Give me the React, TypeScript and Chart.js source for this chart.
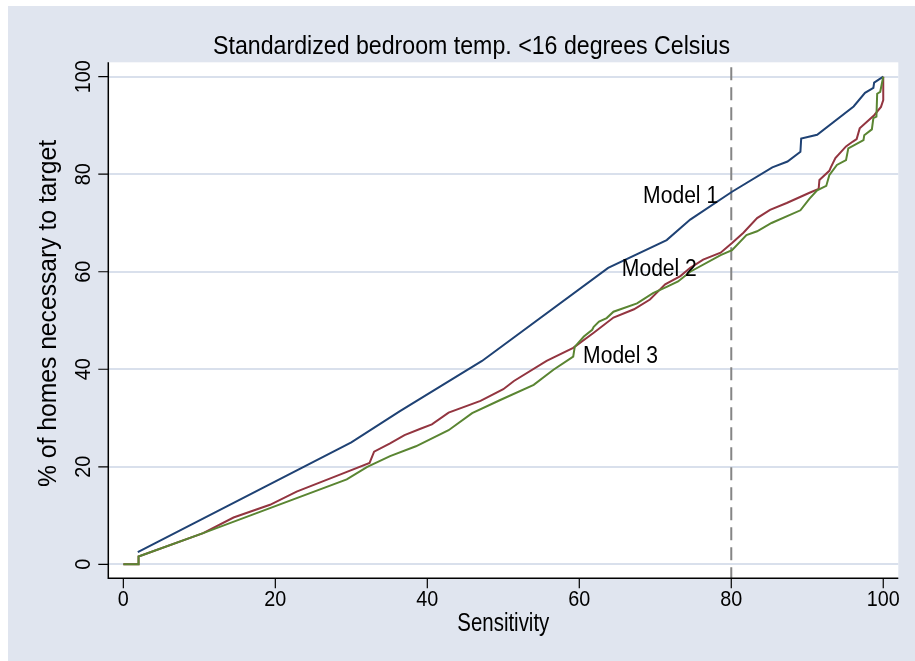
import React, { useEffect, useRef } from "react";
import { Chart, registerables } from "chart.js";

Chart.register(...registerables);

const TITLE = "Standardized bedroom temp. <16 degrees Celsius";
const X_TITLE = "Sensitivity";
const Y_TITLE = "% of homes necessary to target";
const X_TICKS = [0, 20, 40, 60, 80, 100];
const Y_TICKS = [0, 20, 40, 60, 80, 100];
const CUTOFF = 80;

const MODEL1_X = [1.9, 30.0, 36.4, 47.2, 63.8, 71.5, 74.6, 80.1, 85.4, 87.4, 89.1, 89.2, 91.3, 96.1, 97.6, 98.7, 98.8, 100];
const MODEL1_Y = [2.5, 25.0, 31.4, 41.7, 60.8, 66.5, 70.7, 76.4, 81.4, 82.6, 84.6, 87.3, 88.1, 93.9, 96.7, 97.7, 98.8, 100];

const MODEL2_X = [0, 2, 2, 10.5, 14.5, 19.3, 22.8, 29.0, 32.4, 33.0, 35.1, 37.0, 39.1, 40.6, 42.8, 47.0, 50.0, 51.4, 55.7, 59.2, 61.9, 64.5, 67.2, 69.3, 71.3, 73.3, 74.6, 76.3, 78.6, 80.1, 81.6, 83.4, 85.1, 87.3, 90.3, 91.5, 91.6, 92.9, 93.1, 93.7, 95.1, 96.0, 96.5, 96.9, 98.8, 99.7, 100, 100];
const MODEL2_Y = [0, 0, 1.6, 6.4, 9.6, 12.2, 14.9, 18.7, 20.8, 23.1, 24.8, 26.5, 27.8, 28.7, 31.1, 33.5, 35.9, 37.6, 41.7, 44.4, 47.5, 50.6, 52.3, 54.3, 57.4, 59.1, 60.8, 62.5, 63.9, 65.9, 68.0, 71.0, 72.7, 74.1, 76.2, 77.0, 78.8, 80.7, 81.4, 83.3, 85.7, 86.7, 87.2, 89.4, 92.1, 93.8, 95.2, 100];

const MODEL3_X = [0, 2, 2, 10.5, 29.4, 32.1, 35.1, 38.5, 42.8, 45.9, 49.6, 54.0, 56.6, 59.2, 59.4, 60.6, 61.7, 61.9, 62.6, 63.6, 64.5, 67.6, 69.7, 71.5, 73.0, 74.6, 78.6, 80.1, 82.0, 83.4, 85.3, 89.1, 90.3, 91.3, 92.5, 92.9, 93.9, 95.1, 95.4, 97.4, 97.5, 98.5, 98.7, 99.1, 99.2, 99.6, 100];
const MODEL3_Y = [0, 0, 1.6, 6.4, 17.4, 20.0, 22.2, 24.2, 27.5, 31.0, 33.7, 36.8, 39.9, 42.6, 44.6, 46.7, 48.1, 48.7, 49.8, 50.5, 51.8, 53.5, 55.6, 56.9, 58.0, 60.0, 63.4, 64.4, 67.5, 68.3, 70.0, 72.6, 75.0, 76.7, 77.6, 79.8, 81.9, 82.9, 85.3, 87.0, 88.0, 89.2, 91.5, 91.8, 96.5, 96.9, 100];

const LABELS = ["Model 1", "Model 2", "Model 3"];
const LABEL_X = [68.4, 65.6, 60.5];
const LABEL_Y = [75.8, 60.8, 43.0];

const BG = "#e0e5ef";
const GRID = "#d9e0ec";
const COLORS = ["#1f4274", "#933540", "#5a8532"];
const FONT = '"Liberation Sans", Arial, sans-serif';

function drawText(
  ctx: CanvasRenderingContext2D,
  text: string,
  x: number,
  cy: number,
  size: number,
  opts: { rot?: number; width?: number; align?: CanvasTextAlign } = {}
) {
  ctx.save();
  ctx.translate(x, cy);
  if (opts.rot) ctx.rotate(opts.rot);
  ctx.font = `${size}px ${FONT}`;
  const w = ctx.measureText(text).width;
  const sx = opts.width ? opts.width / w : 1;
  ctx.scale(sx, 1);
  ctx.textAlign = opts.align || "center";
  ctx.textBaseline = "alphabetic";
  ctx.fillStyle = "#000";
  ctx.fillText(text, 0, 0.358 * size);
  ctx.restore();
}

const stataPlugin = {
  id: "stata",
  beforeDraw(chart: any) {
    const { ctx, chartArea: a, width, height } = chart;
    ctx.save();
    ctx.fillStyle = BG;
    ctx.fillRect(0, 0, width, height);
    ctx.fillStyle = "#ffffff";
    ctx.fillRect(a.left, a.top, a.right - a.left, a.bottom - a.top);
    ctx.restore();
  },
  beforeDatasetsDraw(chart: any) {
    const { ctx, chartArea: a, scales } = chart;
    const x = scales.x.getPixelForValue(CUTOFF);
    ctx.save();
    ctx.strokeStyle = "#858585";
    ctx.lineWidth = 2;
    ctx.setLineDash([13, 7]);
    ctx.lineDashOffset = 0;
    ctx.beginPath();
    ctx.moveTo(x, a.top + 5);
    ctx.lineTo(x, a.bottom);
    ctx.stroke();
    ctx.restore();
  },
  afterDraw(chart: any) {
    const { ctx, chartArea: a, scales } = chart;
    const xs = scales.x;
    const ys = scales.y;
    ctx.save();
    ctx.strokeStyle = "#000";
    ctx.lineWidth = 1.5;
    ctx.beginPath();
    ctx.moveTo(a.left, a.top);
    ctx.lineTo(a.left, a.bottom);
    ctx.lineTo(a.right, a.bottom);
    ctx.stroke();
    ctx.lineWidth = 1.2;
    ctx.beginPath();
    X_TICKS.forEach((v) => {
      const px = xs.getPixelForValue(v);
      ctx.moveTo(px, a.bottom);
      ctx.lineTo(px, a.bottom + 10);
    });
    Y_TICKS.forEach((v) => {
      const py = ys.getPixelForValue(v);
      ctx.moveTo(a.left, py);
      ctx.lineTo(a.left - 10, py);
    });
    ctx.stroke();
    ctx.restore();

    X_TICKS.forEach((v) => {
      const s = String(v);
      drawText(ctx, s, xs.getPixelForValue(v), a.bottom + 20, 22, { width: 11 * s.length });
    });
    Y_TICKS.forEach((v) => {
      const s = String(v);
      drawText(ctx, s, a.left - 26.5, ys.getPixelForValue(v), 22, { rot: -Math.PI / 2, width: 11 * s.length });
    });
    drawText(ctx, TITLE, 463.5, 39.5, 25, { width: 517 });
    drawText(ctx, X_TITLE, (a.left + a.right) / 2, a.bottom + 43.5, 25, { width: 92 });
    drawText(ctx, Y_TITLE, 39, 307.5, 25, { rot: -Math.PI / 2, width: 347 });
    LABELS.forEach((t, i) => {
      drawText(ctx, t, xs.getPixelForValue(LABEL_X[i]), ys.getPixelForValue(LABEL_Y[i]), 23, {
        width: 75,
        align: "left",
      });
    });
  },
};

function series(xv: number[], yv: number[]) {
  return xv.map((x, i) => ({ x, y: yv[i] }));
}

export default function App() {
  const ref = useRef<HTMLCanvasElement | null>(null);
  useEffect(() => {
    if (!ref.current) return;
    const chart = new Chart(ref.current, {
      type: "scatter",
      data: {
        datasets: [
          { label: LABELS[0], data: series(MODEL1_X, MODEL1_Y), borderColor: COLORS[0], order: 3 },
          { label: LABELS[1], data: series(MODEL2_X, MODEL2_Y), borderColor: COLORS[1], order: 2 },
          { label: LABELS[2], data: series(MODEL3_X, MODEL3_Y), borderColor: COLORS[2], order: 1 },
        ].map((d) => ({
          ...d,
          showLine: true,
          borderWidth: 2,
          pointRadius: 0,
          tension: 0,
          fill: false,
        })) as any,
      },
      options: {
        animation: false,
        responsive: false,
        devicePixelRatio: 1,
        layout: { padding: { left: 100.3, right: 16.7, top: 56.3, bottom: 82.7 } },
        plugins: { legend: { display: false }, tooltip: { enabled: false }, title: { display: false } },
        scales: {
          x: {
            type: "linear",
            min: -1.98,
            max: 101.98,
            grid: { display: false, drawTicks: false },
            border: { display: false },
            ticks: { display: false },
          },
          y: {
            type: "linear",
            min: -2.87,
            max: 102.95,
            afterBuildTicks: (s: any) => {
              s.ticks = Y_TICKS.map((v) => ({ value: v }));
            },
            grid: { color: GRID, lineWidth: 2, drawTicks: false },
            border: { display: false },
            ticks: { display: false },
          },
        },
      },
      plugins: [stataPlugin],
    });
    return () => chart.destroy();
  }, []);
  return (
    <div style={{ position: "fixed", left: 8, top: 6, width: 907, height: 655, background: BG }}>
      <canvas ref={ref} width={907} height={655} style={{ display: "block" }} />
    </div>
  );
}
